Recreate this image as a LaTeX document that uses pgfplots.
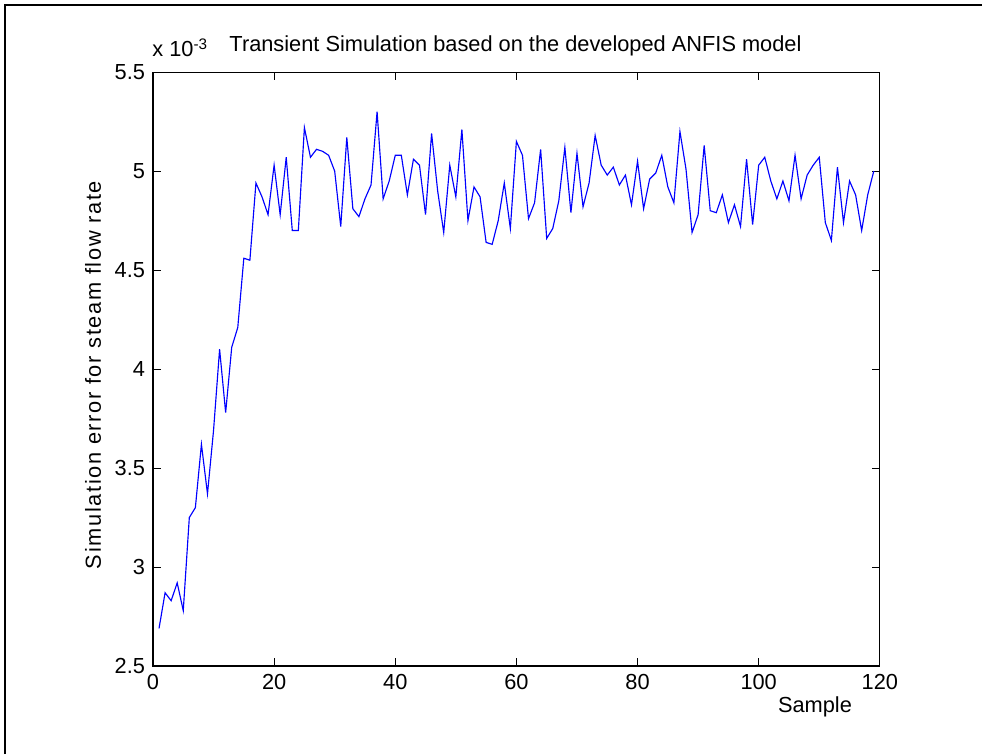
\documentclass[border=0pt]{standalone}
\usepackage{pgfplots}
\pgfplotsset{compat=1.18}
\usepackage{fontspec}
\setmainfont{Liberation Sans}

% simulation error of the ANFIS model, in units of 1e-3
\pgfplotstableread{
s err
1 2.69
2 2.87
3 2.83
4 2.92
5 2.78
6 3.25
7 3.30
8 3.62
9 3.37
10 3.69
11 4.10
12 3.78
13 4.11
14 4.21
15 4.56
16 4.55
17 4.94
18 4.87
19 4.78
20 5.03
21 4.78
22 5.07
23 4.70
24 4.70
25 5.22
26 5.07
27 5.11
28 5.10
29 5.08
30 5.00
31 4.72
32 5.17
33 4.81
34 4.77
35 4.86
36 4.93
37 5.30
38 4.86
39 4.95
40 5.08
41 5.08
42 4.88
43 5.06
44 5.03
45 4.78
46 5.19
47 4.90
48 4.69
49 5.03
50 4.87
51 5.21
52 4.75
53 4.92
54 4.87
55 4.64
56 4.63
57 4.75
58 4.94
59 4.71
60 5.15
61 5.08
62 4.76
63 4.84
64 5.11
65 4.66
66 4.71
67 4.85
68 5.12
69 4.79
70 5.09
71 4.82
72 4.94
73 5.18
74 5.03
75 4.98
76 5.02
77 4.93
78 4.98
79 4.83
80 5.05
81 4.81
82 4.96
83 4.99
84 5.08
85 4.92
86 4.84
87 5.20
88 5.01
89 4.69
90 4.78
91 5.13
92 4.80
93 4.79
94 4.88
95 4.74
96 4.83
97 4.72
98 5.06
99 4.73
100 5.03
101 5.07
102 4.95
103 4.86
104 4.95
105 4.85
106 5.08
107 4.86
108 4.98
109 5.03
110 5.07
111 4.74
112 4.65
113 5.02
114 4.74
115 4.95
116 4.88
117 4.70
118 4.88
119 5.00
}\errtable

\newcommand{\lbl}{\fontsize{12.4}{14.5}\selectfont}

\begin{document}
\begin{tikzpicture}[x=0.02cm,y=0.02cm]
\useasboundingbox (0,0) rectangle (982,754);
% outer frame
\draw[line width=0.8pt] (5,0) -- (5,749) -- (982,749);
\begin{axis}[
  at={(3.06cm,1.76cm)}, anchor=south west,
  scale only axis, width=14.54cm, height=11.88cm,
  xmin=0, xmax=120, ymin=2.5, ymax=5.5,
  xtick={0,20,...,120},
  ytick={2.5,3,...,5.5},
  scaled y ticks=false,
  tick align=inside,
  xtick pos=both, ytick pos=both,
  xticklabel pos=lower, yticklabel pos=left,
  major tick length=0.16cm,
  tick style={black, line width=0.5pt},
  axis line style={black, line width=0.7pt},
  ticklabel style={font=\lbl},
  /pgf/number format/assume math mode=true,
  yticklabel style={xshift=-1pt},
  xticklabel style={yshift=-1pt},
  clip=false,
]
\addplot[color={rgb,255:red,0;green,0;blue,255}, line width=0.65pt, mark=none] table[x=s, y=err] {\errtable};
\end{axis}
\node[font=\lbl, anchor=base] at (515.5,702) {Transient Simulation based on the developed ANFIS model};
\node[font=\lbl, anchor=base west, inner sep=0pt] at (152,697) {x 10\textsuperscript{-3}};
\node[font=\lbl] at (815,47) {Sample};
\node[font=\lbl\addfontfeatures{LetterSpace=7.5}, rotate=90] at (93,379) {Simulation error for steam flow rate};
\end{tikzpicture}
\end{document}
